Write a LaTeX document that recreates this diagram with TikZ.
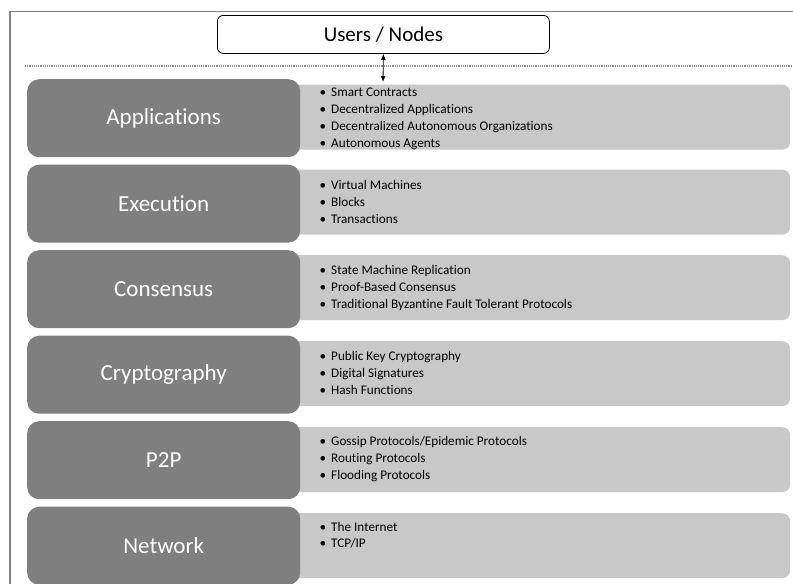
\documentclass[tikz,border=0pt]{standalone}
\usepackage{fontspec}
\setmainfont{Carlito}[Ligatures=NoCommon]
\usetikzlibrary{arrows.meta}

\definecolor{layerdark}{RGB}{127,127,127}
\definecolor{layerlight}{RGB}{200,200,200}
\definecolor{framegray}{RGB}{128,128,128}

\tikzset{
  layerbox/.style={draw=none, fill=layerdark, rounded corners=12pt, anchor=north west,
    minimum width=273pt, minimum height=78pt, inner sep=0pt,
    text=white, font=\fontsize{23}{26}\selectfont},
  detailbox/.style={draw=none, fill=layerlight, rounded corners=8pt, anchor=north west,
    minimum width=500pt, minimum height=65pt, inner sep=0pt},
  itemtext/.style={anchor=base west, inner sep=0pt, font=\fontsize{13.2}{15}\selectfont, text=black},
  userbox/.style={draw=black, line width=0.8pt, fill=white, rounded corners=6pt,
    anchor=north west, minimum width=332pt, minimum height=38pt, inner sep=0pt,
    font=\fontsize{21}{24}\selectfont},
}
\newcommand{\bulletitem}[1]{\makebox[11.5pt][l]{•}#1}

\begin{document}
\begin{tikzpicture}[x=1pt, y=-1pt]
  \useasboundingbox (0,0) rectangle (793,584);

  % outer frame
  \draw[framegray, line width=1.5pt] (10,11.5) rectangle (820,620);

  % separator between users and stack
  \coordinate (sepl) at (25,66);
  \coordinate (sepr) at (793,66);
  \draw[gray!85, densely dotted, line width=1.2pt] (sepl) -- (sepr);

  % users box
  \node[userbox] (users) at (217,15) {Users / Nodes};

  % detail panels (behind the layer boxes)
  \node[detailbox] (dapp) at (290,84.5) {};
  \node[detailbox] (dexe) at (290,169.5) {};
  \node[detailbox] (dcon) at (290,255) {};
  \node[detailbox] (dcry) at (290,341) {};
  \node[detailbox] (dp2p) at (290,427) {};
  \node[detailbox] (dnet) at (290,513) {};

  % layer boxes
  \node[layerbox] (app) at (27,79)    {Applications};
  \node[layerbox] (exe) at (27,164.5) {Execution};
  \node[layerbox] (con) at (27,250)   {Consensus};
  \node[layerbox] (cry) at (27,335.5) {Cryptography};
  \node[layerbox] (p2p) at (27,421)   {P2P};
  \node[layerbox] (net) at (27,506.5) {Network};

  % users <-> applications
  \coordinate (apptop) at (383,82);
  \draw[{Latex[length=6pt,width=5pt]}-{Latex[length=6pt,width=5pt]}, line width=0.8pt]
    (users.south) -- (apptop);

  % item lists
  \foreach \t [count=\i] in {Smart Contracts, Decentralized Applications,
      Decentralized Autonomous Organizations, Autonomous Agents}
    \node[itemtext] (iapp\i) at (319.5,{96+17*(\i-1)}) {\bulletitem{\t}};
  \foreach \t [count=\i] in {Virtual Machines, Blocks, Transactions}
    \node[itemtext] (iexe\i) at (319.5,{189+17*(\i-1)}) {\bulletitem{\t}};
  \foreach \t [count=\i] in {State Machine Replication, Proof-Based Consensus,
      Traditional Byzantine Fault Tolerant Protocols}
    \node[itemtext] (icon\i) at (319.5,{274.5+17*(\i-1)}) {\bulletitem{\t}};
  \foreach \t [count=\i] in {Public Key Cryptography, Digital Signatures, Hash Functions}
    \node[itemtext] (icry\i) at (319.5,{360+17*(\i-1)}) {\bulletitem{\t}};
  \foreach \t [count=\i] in {Gossip Protocols/Epidemic Protocols, Routing Protocols,
      Flooding Protocols}
    \node[itemtext] (ip2p\i) at (319.5,{445.5+17*(\i-1)}) {\bulletitem{\t}};
  \foreach \t [count=\i] in {The Internet, TCP/IP}
    \node[itemtext] (inet\i) at (319.5,{531+16.5*(\i-1)}) {\bulletitem{\t}};
\end{tikzpicture}
\end{document}
